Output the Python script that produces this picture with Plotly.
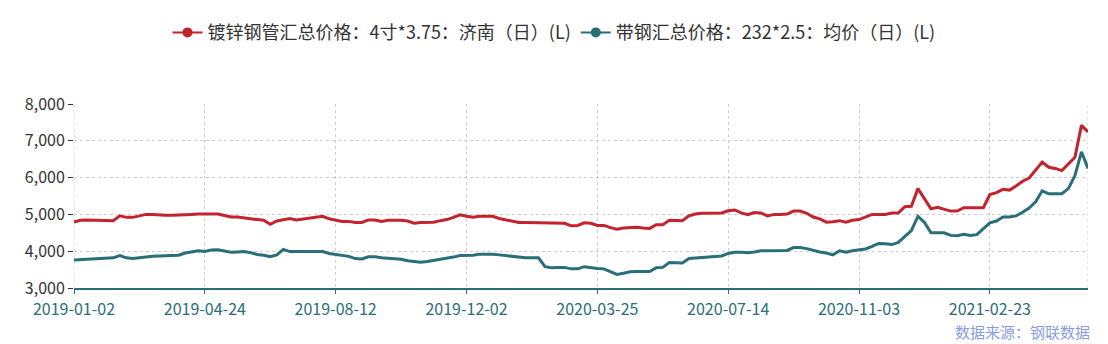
import plotly.graph_objects as go

tick_labels = ["2019-01-02", "2019-04-24", "2019-08-12", "2019-12-02",
               "2020-03-25", "2020-07-14", "2020-11-03", "2021-02-23"]

galv_pipe = [
    4790, 4840, 4850, 4850, 4830, 4830, 4830, 4960, 4920, 4920,
    4960, 5000, 5000, 4980, 4980, 4980, 4980, 4980, 5000, 5010,
    5010, 5020, 5010, 4970, 4930, 4930, 4900, 4880, 4860, 4840,
    4730, 4820, 4860, 4890, 4850, 4880, 4910, 4930, 4950, 4880,
    4840, 4810, 4810, 4780, 4780, 4850, 4850, 4810, 4840, 4850,
    4840, 4820, 4760, 4780, 4780, 4790, 4830, 4860, 4920, 4990,
    4950, 4920, 4950, 4950, 4950, 4890, 4860, 4820, 4780, 4780,
    4780, 4780, 4780, 4780, 4780, 4760, 4690, 4700, 4770, 4760,
    4700, 4700, 4640, 4600, 4630, 4640, 4650, 4630, 4620, 4720,
    4720, 4840, 4840, 4830, 4960, 5010, 5030, 5030, 5030, 5040,
    5100, 5120, 5040, 4990, 5050, 5040, 4960, 5000, 5000, 5010,
    5090, 5090, 5030, 4930, 4880, 4790, 4800, 4830, 4790, 4840,
    4860, 4930, 5000, 5000, 5000, 5040, 5040, 5210, 5220, 5700,
    5420, 5150, 5190, 5150, 5090, 5090, 5180, 5180, 5180, 5180,
    5540, 5590, 5680, 5660, 5770, 5900, 5990, 6220, 6420, 6280,
    6250, 6190, 6370, 6550, 7420, 7240,
]

strip_steel = [
    3760, 3770, 3775, 3780, 3790, 3810, 3820, 3880, 3820, 3800,
    3830, 3840, 3860, 3870, 3870, 3880, 3890, 3950, 3990, 4010,
    3990, 4030, 4040, 4010, 3970, 3980, 3990, 3960, 3910, 3890,
    3850, 3900, 4050, 3990, 3990, 3990, 4000, 4010, 3990, 3940,
    3910, 3880, 3860, 3800, 3790, 3850, 3850, 3820, 3810, 3800,
    3780, 3740, 3710, 3700, 3720, 3750, 3760, 3800, 3840, 3880,
    3880, 3890, 3920, 3930, 3920, 3900, 3880, 3870, 3830, 3820,
    3820, 3820, 3580, 3550, 3560, 3560, 3520, 3520, 3580, 3550,
    3530, 3520, 3440, 3370, 3400, 3440, 3450, 3450, 3450, 3550,
    3560, 3690, 3690, 3680, 3800, 3810, 3830, 3840, 3840, 3870,
    3940, 3970, 3970, 3960, 3980, 4010, 4010, 4010, 4010, 4020,
    4100, 4100, 4070, 4020, 3980, 3950, 3900, 4010, 3970, 4010,
    4040, 4060, 4130, 4210, 4200, 4180, 4240, 4400, 4560, 4950,
    4780, 4500, 4510, 4500, 4430, 4420, 4460, 4430, 4450, 4600,
    4770, 4820, 4930, 4930, 4960, 5060, 5170, 5340, 5640, 5560,
    5570, 5560, 5700, 6050, 6700, 6250,
]

names = ["镀锌钢管汇总价格：4寸*3.75：济南（日）(L)",
         "带钢汇总价格：232*2.5：均价（日）(L)"]
colors = ["#c4222c", "#2a6e77"]
series = [galv_pipe, strip_steel]

n = len(galv_pipe)
idx = list(range(n))
step = 20
tick_pos = [i * step for i in range(len(tick_labels))]

FONT = "Noto Sans CJK SC"
fig = go.Figure()
for name, col, vals in zip(names, colors, series):
    fig.add_trace(go.Scatter(x=idx, y=vals, mode="lines", name=name,
                             line=dict(color=col, width=3), showlegend=False,
                             hoverinfo="skip"))
    fig.add_trace(go.Scatter(x=[None], y=[None], mode="lines+markers", name=name,
                             line=dict(color=col, width=2),
                             marker=dict(color=col, size=10), showlegend=True))

fig.update_layout(
    width=1108, height=344,
    margin=dict(l=74, r=20, t=104, b=56),
    plot_bgcolor="white", paper_bgcolor="white",
    font=dict(family=FONT, size=15, color="#333333"),
    legend=dict(orientation="h", xref="container", yref="container",
                x=0.5, xanchor="center", y=0.905, yanchor="middle",
                font=dict(size=18, color="#333333"), itemwidth=30,
                tracegroupgap=0, bgcolor="rgba(0,0,0,0)"),
    xaxis=dict(range=[0, n - 1], tickmode="array", tickvals=tick_pos,
               ticktext=tick_labels, showgrid=True, gridcolor="#cccccc",
               griddash="dot", gridwidth=1, zeroline=False,
               showline=True, linecolor="#2a6e77", linewidth=1.5,
               ticks="outside", ticklen=4, tickcolor="#2a6e77",
               ticklabelstandoff=2,
               tickfont=dict(color="#2a6e77", size=16, family=FONT),
               mirror=False),
    yaxis=dict(range=[3000, 8000], tickvals=[3000, 4000, 5000, 6000, 7000, 8000],
               tickformat=",d", showgrid=True, gridcolor="#cccccc",
               griddash="dot", gridwidth=1, zeroline=False, showline=False,
               ticks="outside", ticklen=5, tickcolor="#333333",
               tickfont=dict(color="#333333", size=16, family=FONT)),
)

# dashed vertical borders at left and right edges of plot area
for xv in [0, n - 1]:
    fig.add_shape(type="line", xref="x", yref="paper", x0=xv, x1=xv, y0=0, y1=1,
                  line=dict(color="#cccccc", width=1, dash="dot"), layer="below")

fig.add_annotation(text="数据来源：钢联数据", xref="paper", yref="paper",
                   x=1.004, y=-0.234, xanchor="right", yanchor="middle",
                   showarrow=False, font=dict(size=15, color="#8a9de0", family=FONT))

fig.write_html("out.html")
